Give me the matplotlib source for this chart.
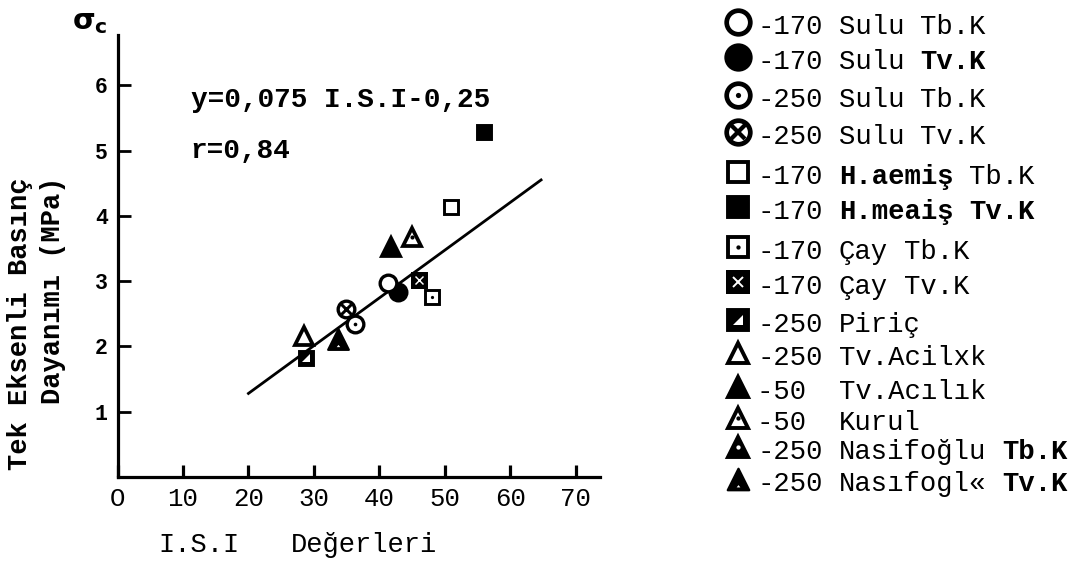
import numpy as np
import matplotlib
matplotlib.use("Agg")
import matplotlib.pyplot as plt
from matplotlib.path import Path

plt.rcParams['font.family'] = ['Liberation Mono', 'DejaVu Sans']

# series (legend order)
codes = ["-170", "-170", "-250", "-250", "-170", "-170", "-170", "-170",
         "-250", "-250", "-50 ", "-50 ", "-250", "-250"]
mats = ["Sulu", "Sulu", "Sulu", "Sulu", "H.aemiş", "H.meaiş", "Çay", "Çay",
        "Piriç", "Tv.Acilxk", "Tv.Acılık", "Kurul", "Nasifoğlu", "Nasıfogl«"]
kinds = ["Tb.K", "Tv.K", "Tb.K", "Tv.K", "Tb.K", "Tv.K", "Tb.K", "Tv.K",
         "", "", "", "", "Tb.K", "Tv.K"]
mat_bold = [False, False, False, False, True, True, False, False,
            False, False, False, False, False, False]
kind_bold = [False, True, False, False, False, True, False, False,
             False, False, False, False, True, True]
styles = ["o_open", "o_full", "o_dot", "o_cross", "s_open", "s_full", "s_dot", "s_cross",
          "s_half", "t_open", "t_full", "t_dots", "t_wdot", "t_hole"]

# I.S.I values and uniaxial compressive strength (MPa)
isi = [41.3, 42.9, 36.3, 34.9, 50.9, 55.95, 48.1, 46.1,
       28.8, 28.5, 41.7, 45.0, np.nan, 33.7]
sigma_c = [2.97, 2.84, 2.35, 2.58, 4.13, 5.29, 2.76, 3.02,
           1.82, 2.16, 3.53, 3.68, np.nan, 2.11]

# regression line y = 0,075 ISI - 0,25
line_isi = [20.0, 64.7]
line_sigma = [1.28, 4.55]

xticks = [0, 10, 20, 30, 40, 50, 60, 70]
xtick_labels = ["O", "10", "20", "30", "40", "50", "60", "70"]
yticks = [1, 2, 3, 4, 5, 6]

W, H = 1073, 564

hole_tri = Path(
    [(0, 1), (-1, -1), (1, -1), (0, 1),
     (0, -0.35), (0.4, -0.85), (-0.4, -0.85), (0, -0.35)],
    [Path.MOVETO, Path.LINETO, Path.LINETO, Path.CLOSEPOLY,
     Path.MOVETO, Path.LINETO, Path.LINETO, Path.CLOSEPOLY])
half_sq = Path([(0.45, 0.45), (0.45, -0.45), (-0.45, -0.45), (0.45, 0.45)],
               [Path.MOVETO, Path.LINETO, Path.LINETO, Path.CLOSEPOLY])


def draw(ax, x, y, st, sizes, z=4):
    k = dict(ls="none", zorder=z, mec="black")
    if st[0] == "o":
        m, s = "o", sizes[0]
    elif st[0] == "s":
        m, s = "s", sizes[1]
    else:
        m, s = "^", sizes[2]
    ew = s * 0.2
    kind = st[2:]
    if kind in ("open", "dot", "cross", "dots"):
        ax.plot(x, y, marker=m, ms=s, mfc="white", mew=ew, **k)
    elif kind == "hole":
        ax.plot(x, y, marker=hole_tri, ms=s * 1.1, mfc="black", mew=ew * 0.6, **k)
    else:
        ax.plot(x, y, marker=m, ms=s, mfc="black", mew=ew, **k)
    if kind in ("dot", "dots"):
        ax.plot(x, y, marker="o", ms=s * 0.22, mfc="black", mew=0, ls="none", zorder=z)
    if kind == "cross" and m == "o":
        ax.plot(x, y, marker="x", ms=s * 0.6, mec="black", mew=ew * 0.9, ls="none", zorder=z)
    if kind == "cross" and m == "s":
        ax.plot(x, y, marker="s", ms=s, mfc="black", mec="black", mew=ew, ls="none", zorder=z)
        ax.plot(x, y, marker="x", ms=s * 0.55, mec="white", mew=ew * 0.5, ls="none", zorder=z)
    if kind == "half":
        ax.plot(x, y, marker=half_sq, ms=s * 0.55, mfc="white", mec="white", mew=0, ls="none", zorder=z)
    if kind == "wdot":
        ax.plot(x, y, marker="o", ms=s * 0.22, mfc="white", mew=0, ls="none", zorder=z)


fig = plt.figure(figsize=(W / 100, H / 100), dpi=100)
ax = fig.add_axes([117.5 / W, 1 - 477 / H, (600 - 117.5) / W, (477 - 35) / H])
ax.set_xlim(0, 73.7)
ax.set_ylim(0, 6.77)
for sp in ["top", "right"]:
    ax.spines[sp].set_visible(False)
for sp in ["left", "bottom"]:
    ax.spines[sp].set_linewidth(2.3)

ax.set_xticks(xticks)
ax.set_xticklabels(xtick_labels, fontsize=18.5)
ax.set_yticks(yticks)
ax.set_yticklabels([str(v) for v in yticks], fontsize=15.5, fontweight="bold")
ax.tick_params(axis="x", direction="in", length=9, width=2.3, pad=7)
ax.tick_params(axis="y", direction="in", length=9, width=2.0, pad=7)

ax.plot(line_isi, line_sigma, color="black", lw=2.0, zorder=2)

for i, st in enumerate(styles):
    draw(ax, isi[i], sigma_c[i], st, (12, 10.5, 13.5), z=3 if st == "o_full" else 4)

ax.text(11.2, 5.77, "y=0,075 I.S.I-0,25", fontsize=20, fontweight="bold", va="center")
ax.text(11.2, 5.0, "r=0,84", fontsize=20, fontweight="bold", va="center")

# axis titles
fig.text(20 / W, 1 - 324 / H, "Tek Eksenli Basınç", rotation=90, fontsize=19.5,
         fontweight="bold", ha="center", va="center")
fig.text(53 / W, 1 - 290 / H, "Dayanımı (MPa)", rotation=90, fontsize=19.5,
         fontweight="bold", ha="center", va="center")
fig.text(90 / W, 1 - 22 / H, r"$\mathbf{\sigma_c}$", fontsize=21, ha="center", va="center")
fig.text(158 / W, 1 - 545 / H, "I.S.I", fontsize=19.5, va="center")
fig.text(291 / W, 1 - 545 / H, "Değerleri", fontsize=19.5, va="center")

# legend, drawn by hand
lax = fig.add_axes([0, 0, 1, 1])
lax.set_xlim(0, W)
lax.set_ylim(H, 0)
lax.axis("off")
row_y = [27, 62, 100, 137, 177, 212, 252, 287, 325, 358, 392, 423, 452, 484]
fs = 19.6
cw = 0.6 * fs / 0.72
x0 = 757
for i, st in enumerate(styles):
    y = row_y[i]
    draw(lax, 738, y - 5, st, (17, 14, 14))
    lax.text(x0, y, codes[i], fontsize=fs, va="center")
    lax.text(x0 + 5 * cw, y, mats[i], fontsize=fs, va="center",
             fontweight="bold" if mat_bold[i] else "normal")
    if kinds[i]:
        lax.text(x0 + (6 + len(mats[i])) * cw, y, kinds[i], fontsize=fs, va="center",
                 fontweight="bold" if kind_bold[i] else "normal")

fig.savefig("out.png", dpi=100)
